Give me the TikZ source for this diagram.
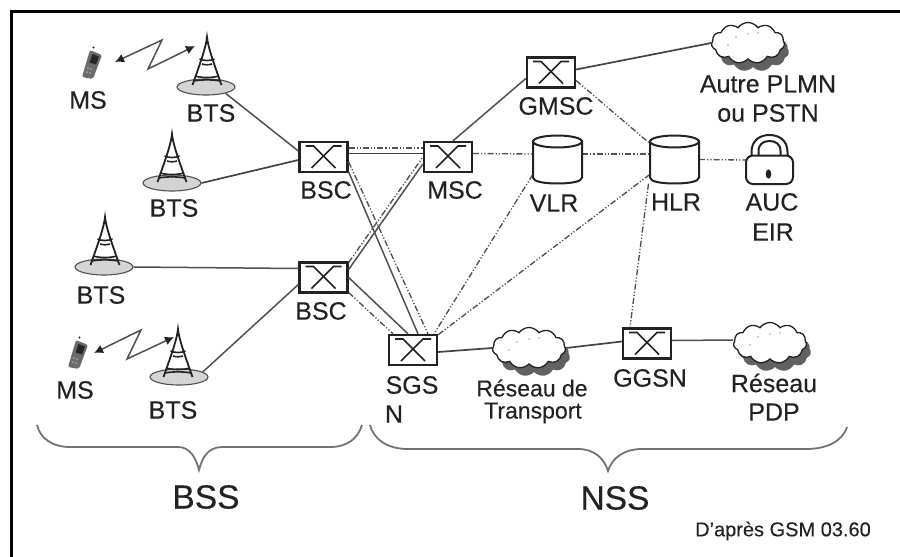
\documentclass[tikz,border=0pt]{standalone}
\usepackage{fontspec}
\setmainfont{Liberation Sans}[FakeBold=0.25]
\usetikzlibrary{shapes.geometric,shapes.symbols,arrows.meta}
\definecolor{ink}{HTML}{222222}
\definecolor{wire}{HTML}{505050}
\tikzset{
  lbl/.style={inner sep=0pt,text=ink,font=\fontsize{25}{25}\selectfont},
  lblsmall/.style={inner sep=0pt,text=ink,font=\fontsize{23}{23}\selectfont},
  lblbig/.style={inner sep=0pt,text=ink,font=\fontsize{33.5}{33.5}\selectfont},
  lbltiny/.style={inner sep=0pt,text=ink,font=\fontsize{20}{20}\selectfont},
  switchbox/.style={draw=ink,line width=2.3pt,minimum width=48pt,minimum height=30pt,inner sep=0pt,fill=white,
    path picture={\begin{scope}[shift={(path picture bounding box.center)}]
      \draw[ink,line width=1.6pt] (-18,-11)--(-10,-11)--(12,11);
      \draw[ink,line width=1.6pt] (18,-11)--(10,-11)--(-12,11);
    \end{scope}}},
  holder/.style={inner sep=0pt,minimum width=49pt,minimum height=48pt},
  ground/.style={ellipse,draw=wire,line width=1.1pt,fill=black!17,minimum width=58pt,minimum height=16pt,inner sep=0pt},
  cloudbox/.style={cloud,draw=ink,line width=1.3pt,fill=white,cloud puffs=11,cloud puff arc=110,aspect=1.8,minimum width=73pt,minimum height=41pt,inner sep=0pt},
  cloudshade/.style={cloud,fill=black!62,cloud puffs=11,cloud puff arc=110,aspect=1.8,minimum width=72pt,minimum height=41pt,inner sep=0pt},
  solidw/.style={wire,line width=1.5pt},
  solidd/.style={ink!85,line width=1.7pt},
  ddot/.style={wire,line width=1.35pt,dash pattern=on 6pt off 2pt on 1.2pt off 2pt on 1.2pt off 2pt},
  zig/.style={wire,line width=1.5pt,{Latex[length=9pt,width=9pt,color=ink]}-{Latex[length=9pt,width=9pt,color=ink]}},
  bracew/.style={black!55,line width=1.8pt},
  pics/tower/.style={code={
    \draw[ink,line width=1.8pt] (-14.5,48) .. controls (-6,24) and (-1,10) .. (0,0) .. controls (1,10) and (6,24) .. (14.5,48);
    \draw[ink,line width=1.6pt] (-7.5,22) .. controls (-3,24) and (3,24) .. (7.5,22);
    \draw[ink,line width=1.6pt] (-5,27) .. controls (-2,28) and (2,28) .. (5,27);
    \draw[ink,line width=1.6pt] (-12,39) .. controls (-5,41) and (5,41) .. (12,39);
    \draw[ink,line width=1.6pt] (-13.5,44) .. controls (-5,42.5) and (5,42.5) .. (13.5,44);
  }},
  pics/phonebody/.style={code={
    \fill[black!58,rounded corners=2pt] (-2,-13)--(10,-8)--(1,16)--(-10,14)--cycle;
    \fill[black!85] (0.5,-9)--(7,-6.5)--(4,1.5)--(-2.5,-0.5)--cycle;
    \fill[ink] (1.5,-15.5) circle (1.2pt);
    \fill[black!35] (-4,5) circle (1pt) (-1,6) circle (1pt) (-5,9) circle (1pt) (-2,10) circle (1pt);
  }},
  pics/cyl/.style={code={
    \draw[ink,line width=2pt,fill=white] (-24.5,-18) -- (-24.5,18) .. controls (-24.5,22) and (-14,24) .. (0,24) .. controls (14,24) and (24.5,22) .. (24.5,18) -- (24.5,-18);
    \draw[ink,line width=2pt,fill=white] (0,-18) ellipse [x radius=24.5,y radius=6];
  }},
  pics/padlock/.style={code={
    \draw[ink,line width=2pt] (-18,-4) -- (-18,-8) .. controls (-18,-20) and (-9,-25) .. (0,-25) .. controls (9,-25) and (18,-20) .. (18,-8) -- (18,-4);
    \draw[ink,line width=2pt] (-11,-4) -- (-11,-9) .. controls (-11,-16) and (-6,-19) .. (0,-19) .. controls (6,-19) and (11,-16) .. (11,-9) -- (11,-4);
    \draw[ink,line width=2pt,fill=white,rounded corners=7pt] (-23.5,-4.5) rectangle (23.5,24);
    \fill[ink] (-1,14) ellipse [x radius=2.8,y radius=4.6];
  }},
  pics/specks/.style={code={
    \fill[black!35] (-12,-6) circle (.8pt) (0,-9) circle (.8pt) (10,-10) circle (.8pt) (-20,2) circle (.8pt);
  }}
}
\begin{document}
\begin{tikzpicture}[x=1pt,y=-1pt]
\useasboundingbox (0,0) rectangle (900,557);
\draw[black,line width=2.8pt] (900,11.3) -- (11.3,11.3) -- (11.3,557);

% ---- equipment nodes
\node[switchbox] (bsca) at (323.5,157) {};
\node[switchbox] (msc) at (448,157) {};
\node[switchbox] (gmsc) at (551,72.5) {};
\node[switchbox] (bscb) at (323.5,277.5) {};
\node[switchbox] (sgsn) at (413,350) {};
\node[switchbox] (ggsn) at (647,343.5) {};
\node[holder] (vlr) at (557.5,159.5) {};
\node[holder] (hlr) at (674.5,159.5) {};
\node[holder,minimum width=47pt] (auc) at (769.5,160) {};
\node[ground] (btsa) at (206,87) {};
\node[ground] (btsb) at (172,183) {};
\node[ground] (btsc) at (104,267) {};
\node[ground] (btsd) at (179,377) {};
\node[cloudshade] (cloudas) at (753,51) {};
\node[cloudbox] (clouda) at (748,43) {};
\node[cloudshade] (cloudbs) at (534,356) {};
\node[cloudbox] (cloudb) at (529,348) {};
\node[cloudshade] (cloudcs) at (775,351) {};
\node[cloudbox] (cloudc) at (770,343) {};
\node[inner sep=0pt,minimum width=20pt,minimum height=32pt] (msa) at (92,63) {};
\node[inner sep=0pt,minimum width=20pt,minimum height=32pt] (msb) at (78,353) {};

% ---- connectors
\draw[solidw] (btsa.-18) -- ([yshift=6pt]bsca.west);
\draw[solidd] (btsb.east) -- ([yshift=-3pt]bsca.west);
\draw[solidw] (btsc.east) -- ([yshift=9pt]bscb.west);
\draw[solidw] (btsd.12) -- ([yshift=-7pt]bscb.west);
\draw[solidd] ([yshift=3.5pt]bsca.east) -- ([yshift=3.5pt]msc.west);
\draw[ddot,line width=2pt] ([yshift=9pt]bsca.east) -- ([yshift=9pt]msc.west);
\draw[solidw] ([xshift=5pt]msc.north) -- ([yshift=-6pt]gmsc.west);
\draw[solidd] ([yshift=3pt]gmsc.east) -- (clouda.west);
\draw[ddot] ([yshift=3.5pt]msc.east) -- ([yshift=5.5pt]vlr.west);
\draw[ddot] ([yshift=5.5pt]vlr.east) -- ([yshift=5.5pt]hlr.west);
\draw[ddot] ([yshift=-8pt]gmsc.east) -- ([yshift=16pt]hlr.west);
\draw[ddot] (hlr.east) -- (auc.west);
\draw[solidw] ([yshift=8pt]bscb.east) -- ([yshift=-7pt]msc.west);
\draw[ddot] ([yshift=15pt]bscb.east) -- ([yshift=0pt]msc.west);
\draw[solidw] ([yshift=-15pt]bsca.east) -- ([xshift=5pt]sgsn.north);
\draw[ddot] ([yshift=-5pt]bsca.east) -- ([xshift=15pt]sgsn.north);
\draw[solidw] (bscb.east) -- ([xshift=-5pt]sgsn.north);
\draw[ddot] ([yshift=-15pt]bscb.east) -- ([xshift=-20pt]sgsn.north);
\draw[ddot] ([yshift=-15pt]vlr.west) -- ([xshift=21pt]sgsn.north);
\draw[ddot] ([yshift=-15pt]hlr.west) -- ([xshift=25pt,yshift=-1pt]sgsn.north);
\draw[ddot] ([xshift=-26pt,yshift=0pt]hlr.south) -- ([xshift=-17pt]ggsn.north);
\draw[solidd] ([yshift=-2pt]sgsn.east) -- (cloudb.west);
\draw[solidd] (cloudb.east) -- ([yshift=2pt]ggsn.west);
\draw[solidw] ([yshift=3pt]ggsn.east) -- ([yshift=3pt]cloudc.west);

% ---- zigzag radio links
\coordinate (za) at (115,62); \coordinate (zb) at (162,40); \coordinate (zc) at (148,69); \coordinate (zd) at (195,46);
\draw[zig] (za) -- (zb) -- (zc) -- (zd);
\coordinate (ze) at (94,353); \coordinate (zf) at (141,330); \coordinate (zg) at (127,359); \coordinate (zh) at (174,337);
\draw[zig] (ze) -- (zf) -- (zg) -- (zh);

% ---- glyphs
\pic at (207,37) {tower};
\pic at (172,134) {tower};
\pic at (105,217) {tower};
\pic at (178,329) {tower};
\pic at (msa) {phonebody};
\pic at (msb) {phonebody};
\pic at (vlr) {cyl};
\pic at (hlr) {cyl};
\pic at (auc) {padlock};
\pic at (clouda) {specks};
\pic at (cloudb) {specks};
\pic at (cloudc) {specks};

% ---- braces
\draw[bracew] (37,425) .. controls (40,438) and (52,447) .. (70,447) -- (178,447) .. controls (190,447) and (196,458) .. (199,470) .. controls (202,458) and (208,447) .. (222,447) -- (330,447) .. controls (348,447) and (358,438) .. (362,425);
\draw[bracew] (370,425) .. controls (374,440) and (388,449) .. (408,449) -- (578,449) .. controls (594,449) and (604,458) .. (608,471) .. controls (612,458) and (624,449) .. (642,449) -- (806,449) .. controls (826,449) and (842,442) .. (847,427);

% ---- labels
\node[lbl] (lms1) at (88,100) {MS};
\node[lbl] (lbts1) at (211,113) {BTS};
\node[lbl] (lbts2) at (174,208) {BTS};
\node[lbl] (lbts3) at (101,295) {BTS};
\node[lbl] (lms2) at (75,390) {MS};
\node[lbl] (lbts4) at (173,410) {BTS};
\node[lbl] (lbsc1) at (326,190) {BSC};
\node[lbl] (lmsc) at (455,190) {MSC};
\node[lbl] (lgmsc) at (556,106) {GMSC};
\node[lbl] (lvlr) at (554,203) {VLR};
\node[lbl] (lhlr) at (676,202) {HLR};
\node[lbl] (lauc) at (772,202) {AUC};
\node[lbl] (leir) at (773,232) {EIR};
\node[lbl] (lautre) at (768,84) {Autre PLMN};
\node[lbl] (lpstn) at (768,113) {ou PSTN};
\node[lbl] (lbsc2) at (321,311) {BSC};
\node[lbl] (lsgs) at (412,385) {SGS};
\node[lbl] (ln) at (394,414) {N};
\node[lblsmall] (lres) at (532,388) {Réseau de};
\node[lblsmall] (ltrans) at (533,413) {Transport};
\node[lbl] (lggsn) at (650,378) {GGSN};
\node[lbl] (lres2) at (774,383) {Réseau};
\node[lbl] (lpdp) at (774,412) {PDP};
\node[lblbig] (lbss) at (206,497) {BSS};
\node[lblbig] (lnss) at (615,498) {NSS};
\node[lbltiny] (lgsm) at (783,531) {D'après GSM 03.60};
\end{tikzpicture}
\end{document}
